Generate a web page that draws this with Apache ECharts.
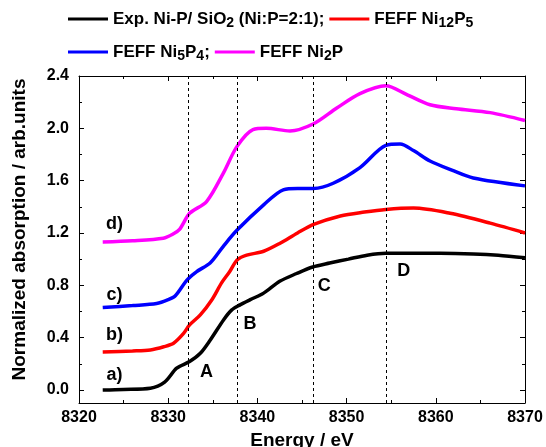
<!DOCTYPE html>
<html>
<head>
<meta charset="utf-8">
<script src="https://cdn.jsdelivr.net/npm/echarts@6/dist/echarts.min.js"></script>
<style>
  html, body { margin: 0; padding: 0; background: #fff; }
  #chart { width: 546px; height: 447px; }
</style>
</head>
<body>
<div id="chart"></div>
<script>
// Ni K-edge XANES spectra: [energy (eV), normalized absorption]
const expNiP = [
  [8322.66, 0.0], [8325, 0.004], [8328, 0.013], [8329.6, 0.06], [8330.95, 0.166],
  [8332.4, 0.217], [8333.6, 0.28], [8334.7, 0.38], [8336.2, 0.535], [8337.1, 0.61],
  [8338.05, 0.65], [8339.2, 0.69], [8340.7, 0.74], [8342.5, 0.83], [8344.4, 0.89],
  [8346.2, 0.94], [8348.1, 0.97], [8350.2, 1.0], [8352.3, 1.03], [8354.4, 1.045],
  [8357.5, 1.045], [8360.5, 1.045], [8364.2, 1.04], [8367, 1.03], [8370, 1.01]
];
const feffNi12P5 = [
  [8322.66, 0.29], [8326, 0.298], [8328, 0.306], [8329.5, 0.33], [8330.6, 0.357],
  [8331.7, 0.43], [8332.4, 0.497], [8333.6, 0.574], [8334.9, 0.69], [8336.0, 0.82],
  [8336.9, 0.905], [8337.75, 0.995], [8338.8, 1.03], [8340.7, 1.06], [8342.5, 1.12],
  [8344.5, 1.2], [8346.3, 1.265], [8349.3, 1.33], [8352, 1.36], [8354.4, 1.38],
  [8357.5, 1.39], [8361.6, 1.35], [8366.1, 1.275], [8370, 1.20]
];
const feffNi5P4 = [
  [8322.66, 0.63], [8326, 0.645], [8328.7, 0.66], [8330.0, 0.69], [8330.8, 0.72],
  [8332.1, 0.84], [8333.2, 0.905], [8334.7, 0.97], [8336.2, 1.10], [8337.7, 1.22],
  [8340.7, 1.415], [8342.9, 1.53], [8344.5, 1.54], [8346.3, 1.54], [8348.5, 1.58],
  [8351.5, 1.70], [8354.4, 1.87], [8356.0, 1.88], [8357.5, 1.83], [8359.35, 1.75],
  [8361.8, 1.68], [8364.2, 1.62], [8370, 1.56]
];
const feffNi2P = [
  [8322.66, 1.13], [8326, 1.14], [8329.45, 1.16], [8330.5, 1.19], [8331.3, 1.23],
  [8332.4, 1.35], [8334.3, 1.44], [8336.2, 1.66], [8337.7, 1.86], [8339.5, 1.99],
  [8341.0, 2.00], [8343.65, 1.98], [8346.3, 2.035], [8348.9, 2.155], [8351.5, 2.265],
  [8354.4, 2.325], [8356.7, 2.26], [8359.35, 2.18], [8362.3, 2.15], [8366.1, 2.12],
  [8370, 2.06]
];

// Energies of the spectral features A–D (dashed guides)
const featureEnergies = [8332.3, 8337.75, 8346.3, 8354.4];
// Feature letters: [energy, value, text]
const featureLabels = [
  [8334.3, 0.134, 'A'], [8339.17, 0.50, 'B'], [8347.5, 0.793, 'C'], [8356.4, 0.912, 'D']
];
// Curve tags: [energy, value, text]
const curveTags = [
  [8323.98, 0.115, 'a)'], [8323.98, 0.42, 'b)'], [8323.98, 0.727, 'c)'], [8323.98, 1.266, 'd)']
];

// Axis ticks
const xLabelValues = [8320, 8330, 8340, 8350, 8360, 8370];
const yLabelValues = [0.0, 0.4, 0.8, 1.2, 1.6, 2.0, 2.4];
const yMinorValues = [0.2, 0.6, 1.0, 1.4, 1.8, 2.2];

const seriesNames = [
  'Exp. Ni-P/ SiO2 (Ni:P=2:1);', 'FEFF Ni12P5', 'FEFF Ni5P4;', 'FEFF Ni2P'
];
const richNames = {
  'Exp. Ni-P/ SiO2 (Ni:P=2:1);': '{n|Exp. Ni-P/ SiO}{s|2}{n| (Ni:P=2:1);}',
  'FEFF Ni12P5': '{n|FEFF Ni}{s|12}{n|P}{s|5}',
  'FEFF Ni5P4;': '{n|FEFF Ni}{s|5}{n|P}{s|4}{n|;}',
  'FEFF Ni2P': '{n|FEFF Ni}{s|2}{n|P}'
};
const colors = ['#000000', '#ff0000', '#0000ff', '#ff00ff'];

const FONT = '"Liberation Sans", Arial, sans-serif';

const legendText = {
  color: '#000',
  fontFamily: FONT,
  fontWeight: 'bold',
  fontSize: 17,
  rich: {
    n: { fontFamily: FONT, fontWeight: 'bold', fontSize: 17, lineHeight: 20, color: '#000' },
    s: { fontFamily: FONT, fontWeight: 'bold', fontSize: 14, lineHeight: 14, padding: [8, 0, 0, 0], color: '#000' }
  }
};

function legendCfg(top, names) {
  return {
    left: 68, top: top, orient: 'horizontal',
    itemWidth: 40, itemHeight: 3, itemGap: 5, icon: 'rect',
    padding: 0,
    data: names,
    formatter: name => richNames[name],
    textStyle: legendText,
    selectedMode: false
  };
}

const tickLabelStyle = { color: '#000', fontFamily: FONT, fontWeight: 'bold', fontSize: 16 };

function curve(name, data, color, extra) {
  return Object.assign({
    name: name,
    type: 'line',
    data: data,
    smooth: 0.3,
    showSymbol: false,
    symbol: 'none',
    color: color,
    lineStyle: { color: color, width: 3.5 },
    z: 3
  }, extra || {});
}

function textSeries(data, z) {
  return {
    type: 'scatter',
    data: data,
    symbolSize: 0,
    silent: true,
    z: z,
    itemStyle: { opacity: 1 },
    label: {
      show: true, position: 'inside', opacity: 1,
      formatter: p => p.value[2],
      color: '#000', fontFamily: FONT, fontWeight: 'bold', fontSize: 18
    }
  };
}

const chart = echarts.init(document.getElementById('chart'), null, { renderer: 'canvas' });

chart.setOption({
  animation: false,
  backgroundColor: '#fff',
  grid: { left: 79, right: 21, top: 76, bottom: 44, containLabel: false, outerBoundsMode: 'none' },
  legend: [
    legendCfg(8, [seriesNames[0], seriesNames[1]]),
    legendCfg(41, [seriesNames[2], seriesNames[3]])
  ],
  xAxis: [
    {
      type: 'value', min: 8320, max: 8370, interval: 10, position: 'bottom',
      name: 'Energy / eV', nameLocation: 'middle', nameGap: 24,
      nameTextStyle: { color: '#000', fontFamily: FONT, fontWeight: 'bold', fontSize: 19 },
      axisLine: { show: true, onZero: false, lineStyle: { color: '#000', width: 1 } },
      axisTick: { show: true, inside: true, length: 5, lineStyle: { color: '#000' } },
      minorTick: { show: true, splitNumber: 2, length: 3, lineStyle: { color: '#000' } },
      axisLabel: Object.assign({ margin: 7, customValues: xLabelValues, formatter: v => String(v) }, tickLabelStyle),
      splitLine: { show: false }, minorSplitLine: { show: false }
    },
    {
      type: 'value', min: 8320, max: 8370, interval: 10, position: 'top',
      axisLine: { show: true, onZero: false, lineStyle: { color: '#000', width: 1 } },
      axisTick: { show: true, inside: true, length: 5, lineStyle: { color: '#000' } },
      minorTick: { show: true, splitNumber: 2, length: 3, lineStyle: { color: '#000' } },
      axisLabel: { show: false },
      splitLine: { show: false }
    }
  ],
  yAxis: [
    {
      type: 'value', min: -0.1, max: 2.4, position: 'left',
      name: 'Normalized absorption / arb.units', nameLocation: 'middle', nameGap: 50,
      nameTextStyle: { color: '#000', fontFamily: FONT, fontWeight: 'bold', fontSize: 19, padding: [0, 0, 0, 20] },
      axisLine: { show: true, onZero: false, lineStyle: { color: '#000', width: 1 } },
      axisTick: { show: true, inside: true, length: 5, customValues: yLabelValues, lineStyle: { color: '#000' } },
      axisLabel: Object.assign({ margin: 10, customValues: yLabelValues, formatter: v => v.toFixed(1) }, tickLabelStyle),
      splitLine: { show: false }
    },
    {
      type: 'value', min: -0.1, max: 2.4, position: 'right',
      axisLine: { show: true, onZero: false, lineStyle: { color: '#000', width: 1 } },
      axisTick: { show: true, inside: true, length: 5, customValues: yLabelValues, lineStyle: { color: '#000' } },
      axisLabel: { show: false },
      splitLine: { show: false }
    },
    {
      type: 'value', min: -0.1, max: 2.4, position: 'left',
      axisLine: { show: false },
      axisTick: { show: true, inside: true, length: 3, customValues: yMinorValues, lineStyle: { color: '#000' } },
      axisLabel: { show: false },
      splitLine: { show: false }
    },
    {
      type: 'value', min: -0.1, max: 2.4, position: 'right',
      axisLine: { show: false },
      axisTick: { show: true, inside: true, length: 3, customValues: yMinorValues, lineStyle: { color: '#000' } },
      axisLabel: { show: false },
      splitLine: { show: false }
    }
  ],
  series: [
    curve(seriesNames[0], expNiP, colors[0], {
      markLine: {
        silent: true,
        symbol: ['none', 'none'],
        label: { show: false },
        lineStyle: { color: '#000', type: [3, 3], width: 1 },
        emphasis: { disabled: true },
        data: featureEnergies.map(e => ({ xAxis: e }))
      }
    }),
    curve(seriesNames[1], feffNi12P5, colors[1]),
    curve(seriesNames[2], feffNi5P4, colors[2]),
    curve(seriesNames[3], feffNi2P, colors[3]),
    textSeries(featureLabels, 5),
    textSeries(curveTags, 5)
  ]
});
</script>
</body>
</html>
